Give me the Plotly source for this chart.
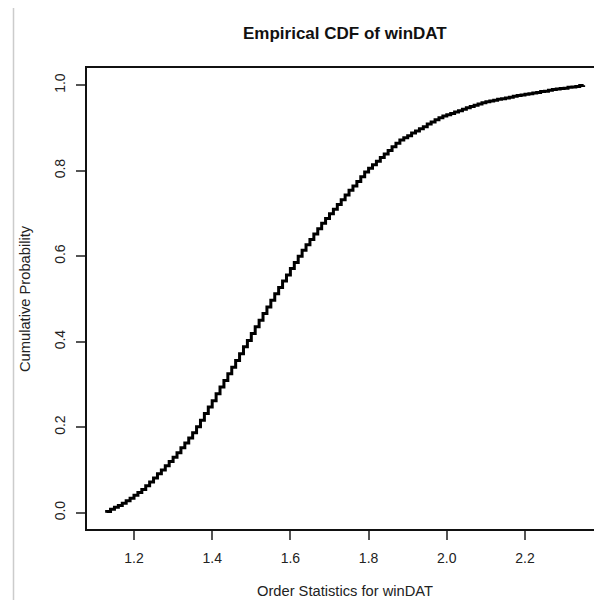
import plotly.graph_objects as go

# Distinct winDAT values (recorded to two decimals) and the empirical
# cumulative proportion reached at each value
win_values = [
    1.13, 1.14, 1.15, 1.16, 1.17, 1.18, 1.19, 1.20, 1.21, 1.22,
    1.23, 1.24, 1.25, 1.26, 1.27, 1.28, 1.29, 1.30, 1.31, 1.32,
    1.33, 1.34, 1.35, 1.36, 1.37, 1.38, 1.39, 1.40, 1.41, 1.42,
    1.43, 1.44, 1.45, 1.46, 1.47, 1.48, 1.49, 1.50, 1.51, 1.52,
    1.53, 1.54, 1.55, 1.56, 1.57, 1.58, 1.59, 1.60, 1.61, 1.62,
    1.63, 1.64, 1.65, 1.66, 1.67, 1.68, 1.69, 1.70, 1.71, 1.72,
    1.73, 1.74, 1.75, 1.76, 1.77, 1.78, 1.79, 1.80, 1.81, 1.82,
    1.83, 1.84, 1.85, 1.86, 1.87, 1.88, 1.89, 1.90, 1.91, 1.92,
    1.93, 1.94, 1.95, 1.96, 1.97, 1.98, 1.99, 2.00, 2.01, 2.02,
    2.03, 2.04, 2.05, 2.06, 2.07, 2.08, 2.09, 2.10, 2.11, 2.12,
    2.13, 2.14, 2.15, 2.16, 2.17, 2.18, 2.19, 2.20, 2.21, 2.22,
    2.23, 2.24, 2.25, 2.26, 2.27, 2.28, 2.29, 2.30, 2.31, 2.32,
    2.33, 2.34, 2.35,
]
cum_prob = [
    0.003, 0.008, 0.013, 0.017, 0.022, 0.028, 0.034, 0.041, 0.047, 0.054,
    0.063, 0.072, 0.081, 0.091, 0.100, 0.110, 0.120, 0.130, 0.140, 0.152,
    0.163, 0.175, 0.187, 0.201, 0.216, 0.232, 0.247, 0.262, 0.278, 0.294,
    0.309, 0.325, 0.340, 0.356, 0.372, 0.388, 0.403, 0.419, 0.435, 0.450,
    0.466, 0.481, 0.497, 0.512, 0.527, 0.542, 0.556, 0.571, 0.585, 0.600,
    0.614, 0.627, 0.639, 0.652, 0.664, 0.677, 0.688, 0.699, 0.710, 0.721,
    0.732, 0.743, 0.754, 0.764, 0.775, 0.786, 0.797, 0.806, 0.814, 0.822,
    0.831, 0.839, 0.847, 0.856, 0.864, 0.872, 0.877, 0.882, 0.888, 0.893,
    0.898, 0.903, 0.909, 0.914, 0.919, 0.924, 0.928, 0.931, 0.934, 0.937,
    0.940, 0.944, 0.947, 0.950, 0.953, 0.956, 0.959, 0.961, 0.963, 0.965,
    0.967, 0.968, 0.970, 0.972, 0.974, 0.976, 0.977, 0.979, 0.980, 0.982,
    0.983, 0.985, 0.986, 0.988, 0.990, 0.991, 0.992, 0.993, 0.995, 0.996,
    0.997, 0.999, 1.000,
]

x_ticks = [1.2, 1.4, 1.6, 1.8, 2.0, 2.2]
y_ticks = [0.0, 0.2, 0.4, 0.6, 0.8, 1.0]
x_tick_text = ["1.2", "1.4", "1.6", "1.8", "2.0", "2.2"]
y_tick_text = ["0.0", "0.2", "0.4", "0.6", "0.8", "1.0"]

# staircase: start at zero on the smallest value, then jump at each value
xs = [win_values[0]] + win_values
ps = [0.0] + cum_prob

FONT = "Liberation Sans, Arial, Helvetica, sans-serif"

fig = go.Figure(
    go.Scatter(
        x=xs, y=ps, mode="lines", line=dict(shape="hv", color="black", width=3),
        hoverinfo="skip", showlegend=False,
    )
)

fig.update_layout(
    width=594, height=600,
    margin=dict(l=87, r=0, t=68, b=71, autoexpand=False),
    paper_bgcolor="white", plot_bgcolor="white",
    font=dict(family=FONT, color="#222222", size=14),
    showlegend=False,
    annotations=[
        dict(text="<b>Empirical CDF of winDAT</b>", xref="paper", yref="paper",
             x=(345 - 87) / 507, y=1 + 35 / 461, xanchor="center", yanchor="middle",
             showarrow=False, font=dict(size=17, color="#111111", family=FONT)),
        dict(text="Order Statistics for winDAT", xref="paper", yref="paper",
             x=(344.5 - 87) / 507, y=-(591 - 529) / 461, xanchor="center", yanchor="middle",
             showarrow=False, font=dict(size=14.7, color="#222222", family=FONT)),
        dict(text="Cumulative Probability", xref="paper", yref="paper",
             x=-(87 - 25) / 507, y=(529 - 299) / 461, xanchor="center", yanchor="middle",
             textangle=-90, showarrow=False, font=dict(size=14.7, color="#222222", family=FONT)),
    ],
    shapes=[
        dict(type="line", xref="paper", yref="paper",
             x0=-(87 - 13.5) / 507, x1=-(87 - 13.5) / 507,
             y0=-(600 - 529) / 461, y1=(529 - 8) / 461,
             line=dict(color="#cccccc", width=1.5)),
    ],
)

fig.update_xaxes(
    range=[1.0798, 2.3765], tickvals=x_ticks, ticktext=x_tick_text,
    showgrid=False, zeroline=False, automargin=False,
    showline=True, linecolor="#111111", linewidth=1.5, mirror=True,
    ticks="outside", ticklen=9, tickcolor="#555555", tickwidth=1.5,
    ticklabelstandoff=6,
    tickfont=dict(size=14, color="#222222", family=FONT),
)
fig.update_yaxes(
    range=[-0.0381, 1.0402], tickvals=y_ticks, ticktext=y_tick_text,
    showgrid=False, zeroline=False, automargin=False,
    showline=True, linecolor="#111111", linewidth=1.5, mirror=False,
    ticks="outside", ticklen=9, tickcolor="#555555", tickwidth=1.5,
    tickangle=-90, ticklabelstandoff=6,
    tickfont=dict(size=14, color="#222222", family=FONT),
)

fig.write_html("out.html")
